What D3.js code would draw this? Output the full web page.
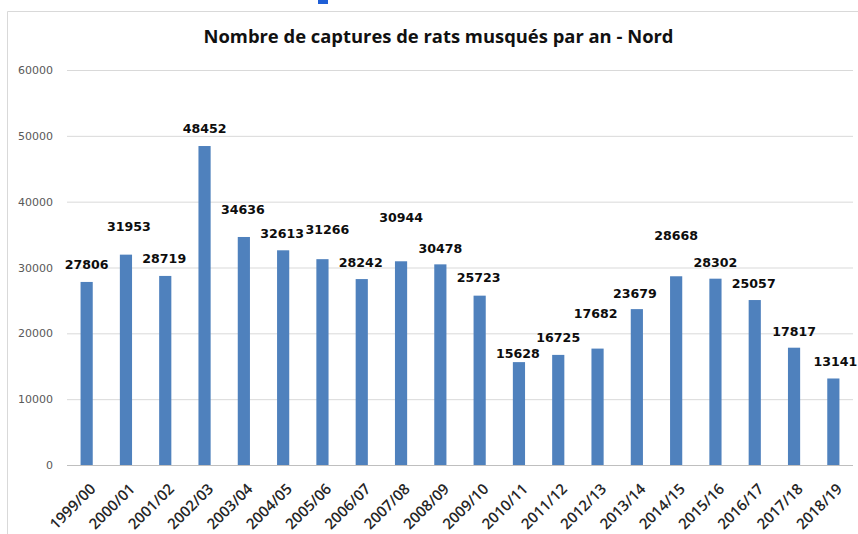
<!DOCTYPE html>
<html>
<head>
<meta charset="utf-8">
<script src="https://cdn.jsdelivr.net/npm/d3@7"></script>
<style>
  html, body { margin: 0; padding: 0; background: #ffffff; }
  svg { display: block; }
</style>
</head>
<body>
<svg id="chart" width="858" height="534"></svg>
<script>
// Données
const seasons = ["1999/00", "2000/01", "2001/02", "2002/03", "2003/04", "2004/05", "2005/06",
  "2006/07", "2007/08", "2008/09", "2009/10", "2010/11", "2011/12", "2012/13", "2013/14",
  "2014/15", "2015/16", "2016/17", "2017/18", "2018/19"];
const captures = [27806, 31953, 28719, 48452, 34636, 32613, 31266, 28242, 30944, 30478,
  25723, 15628, 16725, 17682, 23679, 28668, 28302, 25057, 17817, 13141];
const yTicks = [0, 10000, 20000, 30000, 40000, 50000, 60000];
const chartTitle = "Nombre de captures de rats musqués par an - Nord";

// placement des étiquettes (déplacées à la main dans l'original)
const labelLift = [17, 28, 17, 18, 28, 17, 30, 17, 44, 16, 18, 9, 17, 35, 16, 41, 16, 17, 16, 17];
const labelShift = [0, 3, -1, 0, -1, -1, 5, -1, 0, 0, -1, -1, 0, -2, -2, 0, 0, -1, 0, 2];

const svg = d3.select("#chart");

const x = d3.scaleBand()
  .domain(seasons)
  .range([67, 853])
  .paddingInner(0.69)
  .paddingOuter(0.345);

const y = d3.scaleLinear()
  .domain([0, 60000])
  .range([465, 70]);

// cadre du graphique
svg.append("path")
  .attr("d", "M7.5,534 V11.5 H858")
  .attr("fill", "none")
  .attr("stroke", "#d9d9d9")
  .attr("stroke-width", 1);

// fragment de lien en haut
svg.append("rect")
  .attr("x", 318)
  .attr("y", 0)
  .attr("width", 10)
  .attr("height", 4)
  .attr("fill", "#1f5fd6");

svg.append("text")
  .attr("x", 438.5)
  .attr("y", 43)
  .attr("text-anchor", "middle")
  .attr("fill", "#111111")
  .style("font-family", "'Open Sans', sans-serif")
  .style("font-weight", "bold")
  .style("font-size", "18.4px")
  .text(chartTitle);

// axe Y + grille
const yAxis = svg.append("g")
  .attr("transform", "translate(67,0)")
  .call(d3.axisLeft(y).tickValues(yTicks).tickSize(-786).tickPadding(14).tickFormat(d3.format("d")));

yAxis.select(".domain").remove();
yAxis.selectAll(".tick line")
  .attr("stroke", (d) => (d === 0 ? "#bfbfbf" : "#d9d9d9"));
yAxis.selectAll(".tick text")
  .attr("fill", "#595959")
  .style("font-family", "'DejaVu Sans', sans-serif")
  .style("font-size", "11px");

// barres
svg.append("g")
  .selectAll("rect")
  .data(captures)
  .join("rect")
  .attr("x", (d, i) => x(seasons[i]))
  .attr("y", (d) => y(d))
  .attr("width", x.bandwidth())
  .attr("height", (d) => y(0) - y(d))
  .attr("fill", "#4f81bd");

// étiquettes de valeurs
svg.append("g")
  .selectAll("text")
  .data(captures)
  .join("text")
  .attr("x", (d, i) => x(seasons[i]) + x.bandwidth() / 2 + labelShift[i])
  .attr("y", (d, i) => y(d) - labelLift[i])
  .attr("dy", "0.36em")
  .attr("text-anchor", "middle")
  .attr("fill", "#0d0d0d")
  .style("font-family", "'DejaVu Sans', sans-serif")
  .style("font-weight", "bold")
  .style("font-size", "12.6px")
  .text((d) => d);

// étiquettes de l'axe X (inclinées)
svg.append("g")
  .selectAll("text")
  .data(seasons)
  .join("text")
  .attr("transform", (d) => `translate(${x(d) + x.bandwidth() / 2 + 6},${y(0) + 21}) rotate(-45)`)
  .attr("dy", "0.36em")
  .attr("text-anchor", "end")
  .attr("fill", "#262626")
  .style("font-family", "'Open Sans', sans-serif")
  .style("font-weight", "600")
  .style("font-size", "15px")
  .text((d) => d);
</script>
</body>
</html>
